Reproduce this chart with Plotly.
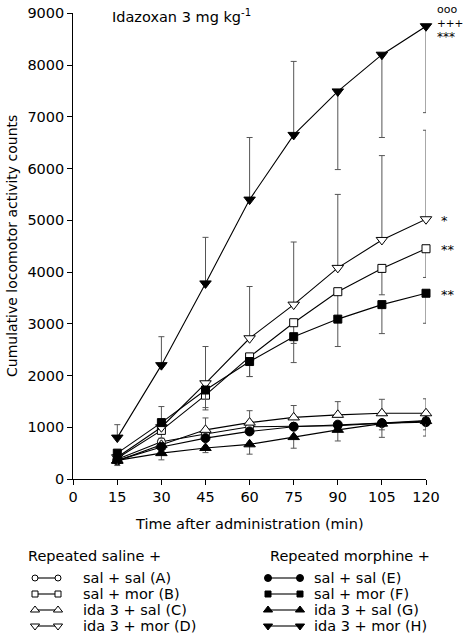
import plotly.graph_objects as go

# ---------------- data ----------------
time = [15, 30, 45, 60, 75, 90, 105, 120]

# Repeated saline +
A_sal_sal = [380, 720, 870, 1010, 1020, 1030, 1080, 1130]
B_sal_mor = [400, 940, 1620, 2360, 3020, 3620, 4070, 4450]
C_ida_sal = [350, 660, 950, 1090, 1190, 1240, 1270, 1270]
D_ida_mor = [420, 1000, 1850, 2720, 3370, 4080, 4620, 5020]
# Repeated morphine +
E_sal_sal = [360, 620, 790, 920, 1010, 1050, 1080, 1100]
F_sal_mor = [500, 1090, 1720, 2270, 2750, 3090, 3370, 3590]
G_ida_sal = [360, 500, 600, 670, 810, 950, 1070, 1120]
H_ida_mor = [800, 2200, 3780, 5400, 6650, 7490, 8200, 8750]

# SEM (one-sided as drawn)
A_up = [0, 0, 0, 0, 0, 0, 0, 0]
A_dn = [0, 0, 0, 0, 0, 0, 0, 0]
B_up = [0, 0, 0, 0, 0, 0, 0, 0]
B_dn = [100, 150, 240, 380, 400, 520, 510, 555]
C_up = [0, 0, 230, 230, 230, 255, 270, 280]
C_dn = [0, 0, 0, 0, 0, 0, 0, 0]
D_up = [0, 400, 710, 1000, 1210, 1420, 1630, 1720]
D_dn = [0, 0, 0, 0, 0, 0, 0, 0]
E_up = [0, 0, 0, 0, 0, 0, 0, 0]
E_dn = [0, 0, 0, 0, 0, 100, 130, 150]
F_up = [0, 0, 0, 0, 0, 0, 0, 0]
F_dn = [0, 0, 385, 290, 500, 530, 560, 580]
G_up = [0, 0, 0, 0, 0, 0, 0, 0]
G_dn = [100, 130, 90, 190, 215, 215, 265, 290]
H_up = [250, 550, 890, 1200, 1420, 0, 0, 0]
H_dn = [0, 0, 0, 0, 0, 1510, 1600, 1670]

x_ticks = [0, 15, 30, 45, 60, 75, 90, 105, 120]
y_ticks = [0, 1000, 2000, 3000, 4000, 5000, 6000, 7000, 8000, 9000]

FONT = "DejaVu Sans, Liberation Sans, Arial"
W, H = 463, 640

series = [
    ("sal + sal (A)", A_sal_sal, A_up, A_dn, "circle", "white", 8),
    ("sal + mor (B)", B_sal_mor, B_up, B_dn, "square", "white", 8),
    ("ida 3 + sal (C)", C_ida_sal, C_up, C_dn, "triangle-up", "white", 10),
    ("ida 3 + mor (D)", D_ida_mor, D_up, D_dn, "triangle-down", "white", 10),
    ("sal + sal (E)", E_sal_sal, E_up, E_dn, "circle", "black", 9),
    ("sal + mor (F)", F_sal_mor, F_up, F_dn, "square", "black", 8),
    ("ida 3 + sal (G)", G_ida_sal, G_up, G_dn, "triangle-up", "black", 10),
    ("ida 3 + mor (H)", H_ida_mor, H_up, H_dn, "triangle-down", "black", 10),
]

fig = go.Figure()

for name, ys, up, dn, sym, fill, size in series:
    fig.add_trace(go.Scatter(
        x=time, y=ys, name=name, mode="lines+markers",
        line=dict(color="black", width=1.1),
        marker=dict(symbol=sym, size=size, color=fill,
                    line=dict(color="black", width=1)),
        error_y=dict(type="data", symmetric=False, array=up, arrayminus=dn,
                     color="#555555", thickness=1, width=3),
        cliponaxis=False, showlegend=False,
    ))

# ---------------- custom legend (pixel axes) ----------------
legend_y = [578, 594, 610, 626]
left_sample = (35, 58, 81)
right_sample = (268, 300, 312)
for i, (name, ys, up, dn, sym, fill, size) in enumerate(series):
    yy = legend_y[i % 4]
    xs = left_sample if i < 4 else right_sample
    fig.add_trace(go.Scatter(
        x=[xs[0], xs[1]], y=[yy, yy], mode="lines+markers",
        xaxis="x2", yaxis="y2",
        line=dict(color="black", width=1.1),
        marker=dict(symbol=sym, size=size - 2, color=fill,
                    line=dict(color="black", width=1)),
        showlegend=False, hoverinfo="skip", cliponaxis=False,
    ))
    fig.add_annotation(x=xs[2], y=yy, xref="x2", yref="y2", text=name,
                       showarrow=False, xanchor="left", yanchor="middle",
                       font=dict(family=FONT, size=14.5, color="black"))

fig.add_annotation(x=26, y=556, xref="x2", yref="y2", text="Repeated saline +",
                   showarrow=False, xanchor="left", yanchor="middle",
                   font=dict(family=FONT, size=14.5, color="black"))
fig.add_annotation(x=268, y=556, xref="x2", yref="y2", text="Repeated morphine +",
                   showarrow=False, xanchor="left", yanchor="middle",
                   font=dict(family=FONT, size=14.5, color="black"))

# significance marks
sig = [("ooo", 435, 9, 11), ("+++", 435, 23, 10.5), ("***", 435, 37, 12),
       ("*", 439, 220, 13), ("**", 439, 249, 13), ("**", 439, 294, 13)]
for txt, xx, yy, fs in sig:
    fig.add_annotation(x=xx, y=yy, xref="x2", yref="y2", text=txt,
                       showarrow=False, xanchor="left", yanchor="middle",
                       font=dict(family=FONT, size=fs, color="black"))

# title inside plot
fig.add_annotation(x=110, y=16, xref="x2", yref="y2",
                   text="Idazoxan 3 mg kg<sup>-1</sup>",
                   showarrow=False, xanchor="left", yanchor="middle",
                   font=dict(family=FONT, size=14.5, color="black"))

# axis titles
fig.add_annotation(x=12, y=246, xref="x2", yref="y2",
                   text="Cumulative locomotor activity counts", textangle=-90,
                   showarrow=False, xanchor="center", yanchor="middle",
                   font=dict(family=FONT, size=14, color="black"))
fig.add_annotation(x=249, y=524, xref="x2", yref="y2",
                   text="Time after administration (min)",
                   showarrow=False, xanchor="center", yanchor="middle",
                   font=dict(family=FONT, size=14.5, color="black"))

x0_px, x1_px = 73.2, 426.0
y0_px, y1_px = 479.0, 13.3

fig.update_layout(
    width=W, height=H,
    margin=dict(l=0, r=0, t=0, b=0, pad=0, autoexpand=False),
    paper_bgcolor="white", plot_bgcolor="rgba(0,0,0,0)",
    font=dict(family=FONT, size=15, color="black"),
    xaxis=dict(domain=[x0_px / W, x1_px / W], range=[0, 120],
               tickvals=x_ticks, ticktext=[str(v) for v in x_ticks],
               ticks="outside", ticklen=5, tickcolor="black",
               showline=True, linecolor="black", linewidth=1,
               showgrid=False, zeroline=False, anchor="y", automargin=False,
               tickfont=dict(family=FONT, size=14.5)),
    yaxis=dict(domain=[1 - y0_px / H, 1 - y1_px / H], range=[0, 9000],
               tickvals=y_ticks, ticktext=[str(v) for v in y_ticks],
               ticks="outside", ticklen=5, tickcolor="black",
               showline=True, linecolor="black", linewidth=1,
               showgrid=False, zeroline=False, anchor="x", automargin=False,
               tickfont=dict(family=FONT, size=14.5)),
    xaxis2=dict(domain=[0, 1], range=[0, W], visible=False, anchor="y2",
                fixedrange=True, automargin=False),
    yaxis2=dict(domain=[0, 1], range=[H, 0], visible=False, anchor="x2",
                fixedrange=True, automargin=False),
)

fig.write_html("out.html",
               config={"displayModeBar": False},
               post_script="document.body.style.margin='0';"
                           "document.body.style.padding='0';"
                           "document.body.style.overflow='hidden';")
